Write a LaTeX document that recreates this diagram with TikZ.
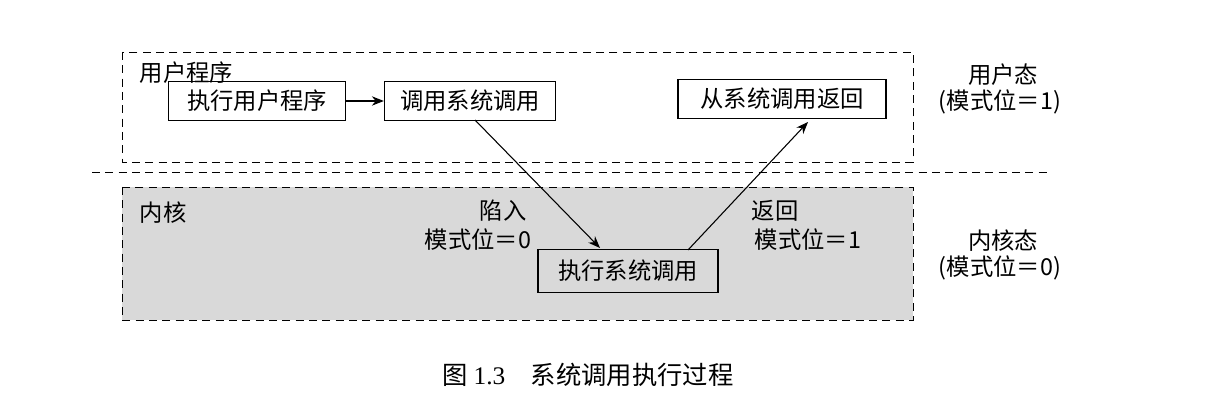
\documentclass[tikz,border=0pt]{standalone}
\usepackage{fontspec}
\setmainfont{Liberation Serif}
\newfontfamily\cjk{Noto Sans CJK SC}
\usetikzlibrary{arrows.meta}
\begin{document}
\begin{tikzpicture}[x=0.75pt,y=-0.75pt,font=\cjk\fontsize{17.5}{20}\selectfont,
  bx/.style={draw,line width=1.2pt,minimum height=29pt,inner xsep=2pt},
  arr/.style={-{Stealth[length=9pt,width=7pt]},line width=0.8pt},
  dsh/.style={dashed,dash pattern=on 6pt off 4pt,line width=0.7pt}]
\useasboundingbox (0,0) rectangle (1205,413);
\draw[dsh] (122,52) rectangle (913,162);
\draw[dsh,fill=black!15] (122,187) rectangle (913,320);
\draw[dsh] (92,172) -- (1050,172);
\node[anchor=west] (ul) at (135,73) {用户程序};
\node[anchor=west] (kl) at (135,213) {内核};
\node[bx,minimum width=133pt] (a) at (257,101) {执行用户程序};
\node[bx,minimum width=128pt] (b) at (470,101) {调用系统调用};
\node[bx,minimum width=156pt] (c) at (782,99) {从系统调用返回};
\node[bx,minimum width=135pt,minimum height=32pt] (d) at (628,271) {执行系统调用};
\draw[arr] (a) -- (b);
\coordinate (b1) at (475,120);
\coordinate (d1) at (600,248);
\coordinate (d2) at (688,250);
\coordinate (c1) at (808,122);
\draw[arr] (b1) -- (d1);
\draw[arr] (d2) -- (c1);
\node (t1) at (503,211) {陷入};
\node (t2) at (478,240) {模式位＝0};
\node (r1) at (775,211) {返回};
\node (r2) at (808,240) {模式位＝1};
\node (u1) at (1003,75) {用户态};
\node (u2) at (1000,102) {(模式位＝1)};
\node (k1) at (1003,241) {内核态};
\node (k2) at (1000,268) {(模式位＝0)};
\node (cap) at (588,375) {\fontsize{19}{21}\selectfont 图 {\rmfamily 1.3}\quad 系统调用执行过程};
\end{tikzpicture}
\end{document}
